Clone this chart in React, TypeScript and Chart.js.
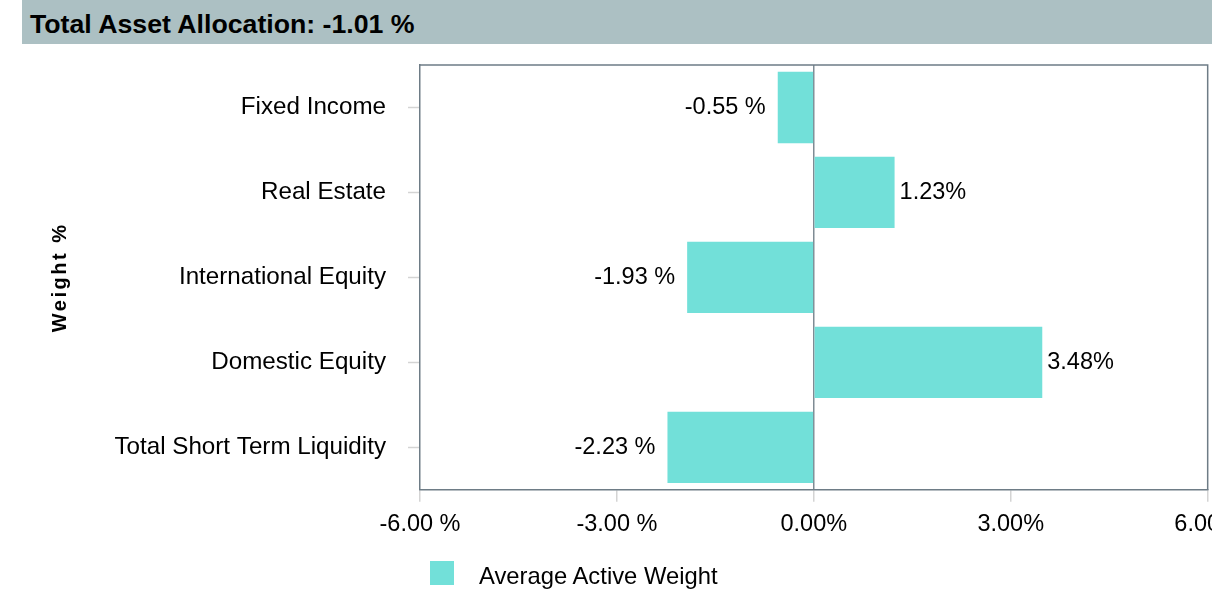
import React, { useEffect, useRef } from "react";
import { Chart, registerables } from "chart.js";

Chart.register(...registerables);

const titleText = "Total Asset Allocation: -1.01 %";
const categories = [
  "Fixed Income",
  "Real Estate",
  "International Equity",
  "Domestic Equity",
  "Total Short Term Liquidity",
];
const activeWeights = [-0.55, 1.23, -1.93, 3.48, -2.23];
const seriesName = "Average Active Weight";
const axisTitle = "Weight %";
const xMin = -6;
const xMax = 6;
const xStep = 3;

const FONT = "'Liberation Sans', Arial, Helvetica, sans-serif";
const BAR_COLOR = "#72E0D9";
const BORDER_COLOR = "#6e7c86";

const fmt = (v: number) => (v < 0 ? `${v.toFixed(2)} %` : `${v.toFixed(2)}%`);

const frameAndLabels = {
  id: "frameAndLabels",
  afterDatasetsDraw(chart: any) {
    const { ctx, chartArea } = chart;
    ctx.save();
    // top and right frame
    ctx.strokeStyle = BORDER_COLOR;
    ctx.lineWidth = 1.5;
    ctx.beginPath();
    ctx.moveTo(chartArea.left, chartArea.top);
    ctx.lineTo(chartArea.right, chartArea.top);
    ctx.lineTo(chartArea.right, chartArea.bottom);
    ctx.stroke();
    // value labels
    const meta = chart.getDatasetMeta(0);
    const data = chart.data.datasets[0].data as number[];
    ctx.fillStyle = "#000";
    ctx.font = `23.5px ${FONT}`;
    ctx.textBaseline = "middle";
    meta.data.forEach((el: any, i: number) => {
      const v = data[i];
      if (v < 0) {
        ctx.textAlign = "right";
        ctx.fillText(fmt(v), el.x - 12, el.y);
      } else {
        ctx.textAlign = "left";
        ctx.fillText(fmt(v), el.x + 5, el.y);
      }
    });
    // y axis title (letter-spaced)
    ctx.translate(38, (chartArea.top + chartArea.bottom) / 2);
    ctx.rotate(-Math.PI / 2);
    ctx.font = `bold 20px ${FONT}`;
    try {
      (ctx as any).letterSpacing = "2.5px";
    } catch (e) {}
    ctx.textAlign = "center";
    ctx.textBaseline = "middle";
    ctx.fillText(axisTitle, 0, 0);
    ctx.restore();
  },
};

export default function App() {
  const ref = useRef<HTMLCanvasElement | null>(null);

  useEffect(() => {
    if (!ref.current) return;
    const chart = new Chart(ref.current, {
      type: "bar",
      data: {
        labels: categories,
        datasets: [
          {
            label: seriesName,
            data: activeWeights,
            backgroundColor: BAR_COLOR,
            borderWidth: 0,
            categoryPercentage: 0.84,
            barPercentage: 1,
          },
        ],
      },
      options: {
        indexAxis: "y",
        animation: false,
        responsive: false,
        maintainAspectRatio: false,
        layout: { padding: { top: 21, bottom: 44, left: 0, right: 0 } },
        plugins: {
          legend: { display: false },
          tooltip: { enabled: false },
          title: { display: false },
        },
        scales: {
          x: {
            type: "linear",
            min: xMin,
            max: xMax,
            ticks: {
              stepSize: xStep,
              padding: 9,
              color: "#000",
              font: { family: FONT, size: 23.5 },
              callback: (v: any) => fmt(Number(v)),
            },
            grid: {
              drawOnChartArea: true,
              color: (c: any) => (c.tick && c.tick.value === 0 ? "#7f8b94" : "rgba(0,0,0,0)"),
              lineWidth: 1.5,
              drawTicks: true,
              tickLength: 12,
              tickColor: "#d4d4d4",
              tickWidth: 1.5,
            },
            border: { display: true, color: BORDER_COLOR, width: 1.5 },
          },
          y: {
            type: "category",
            ticks: {
              padding: 22,
              color: "#000",
              font: { family: FONT, size: 24.2 },
            },
            grid: {
              offset: false,
              drawOnChartArea: false,
              drawTicks: true,
              tickLength: 12,
              tickColor: "#d4d4d4",
              tickWidth: 1.5,
            },
            border: { display: true, color: BORDER_COLOR, width: 1.5 },
            afterFit: (scale: any) => {
              scale.width = 398;
              scale.paddingTop = 0;
              scale.paddingBottom = 0;
            },
          },
        },
      },
      plugins: [frameAndLabels],
    });
    return () => chart.destroy();
  }, []);

  return (
    <div
      style={{
        position: "fixed",
        left: 0,
        top: 0,
        width: 1212,
        height: 592,
        overflow: "hidden",
        background: "#fff",
        fontFamily: FONT,
      }}
    >
      <div
        style={{
          position: "absolute",
          left: 22,
          top: 0,
          width: 1190,
          height: 44,
          background: "#acc0c3",
          boxSizing: "border-box",
          paddingLeft: 8,
          fontWeight: "bold",
          fontSize: 26.7,
          lineHeight: "49px",
          color: "#000",
          whiteSpace: "nowrap",
        }}
      >
        {titleText}
      </div>
      <canvas
        ref={ref}
        width={1228}
        height={548}
        style={{ position: "absolute", left: 22, top: 44, width: 1228, height: 548 }}
      />
      <div
        style={{
          position: "absolute",
          left: 430,
          top: 561,
          height: 24,
          display: "flex",
          alignItems: "center",
          fontSize: 23.8,
          color: "#000",
          whiteSpace: "nowrap",
        }}
      >
        <span style={{ display: "inline-block", width: 24, height: 24, background: BAR_COLOR }} />
        <span style={{ marginLeft: 25, position: "relative", top: 3 }}>{seriesName}</span>
      </div>
    </div>
  );
}
